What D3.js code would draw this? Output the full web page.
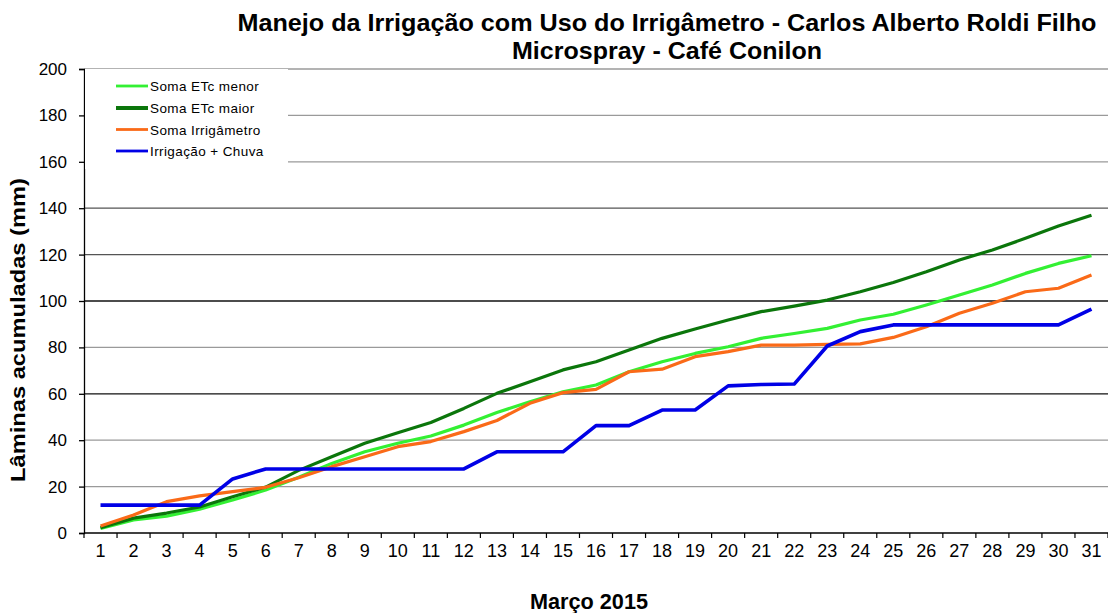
<!DOCTYPE html>
<html>
<head>
<meta charset="utf-8">
<script src="https://cdn.jsdelivr.net/npm/d3@7"></script>
<style>
  html, body { margin: 0; padding: 0; background: #fff; }
  svg { display: block; }
  text { font-family: "Liberation Sans", Arial, sans-serif; }
</style>
</head>
<body>
<svg id="chart" width="1108" height="613"></svg>
<script>
const days = d3.range(1, 32).map(String);
const yTicks = [0, 20, 40, 60, 80, 100, 120, 140, 160, 180, 200];

const seriesNames = ["Soma ETc menor", "Soma ETc maior", "Soma Irrigâmetro", "Irrigação + Chuva"];
const seriesColors = ["#33f033", "#0b760b", "#fa6a18", "#0000e6"];

const etcMenor = [2, 5.6, 7.3, 10.3, 14.2, 18.5, 24, 30, 35, 38.7, 41.8, 46.5, 51.9, 56.6, 60.9, 63.8, 69.5, 73.8, 77.4, 80.3, 83.9, 86, 88.2, 91.8, 94.3, 98.3, 102.6, 106.9, 111.9, 116.2, 119.5];
const etcMaior = [2.3, 6.4, 8.6, 11.2, 15.6, 19.8, 27, 32.9, 38.7, 43.2, 47.6, 53.7, 60.2, 65.2, 70.3, 73.8, 78.9, 83.9, 87.9, 91.8, 95.4, 97.8, 100.4, 104, 108, 112.6, 117.7, 122, 127, 132.3, 137];
const irrigametro = [3, 7.8, 13.5, 16, 17.8, 19.7, 23.8, 28.6, 32.9, 37.2, 39.4, 43.7, 48.5, 55.9, 60.5, 61.9, 69.5, 70.6, 76, 78.2, 81, 81, 81.3, 81.5, 84.3, 88.9, 94.7, 99, 104, 105.5, 111.2];
const irrigChuva = [12, 12, 12, 12, 23.3, 27.6, 27.6, 27.6, 27.6, 27.6, 27.6, 27.6, 35, 35, 35, 46.3, 46.3, 53, 53, 63.4, 64, 64.2, 80.6, 86.8, 89.7, 89.7, 89.7, 89.7, 89.7, 89.7, 96.5];

const allSeries = [etcMenor, etcMaior, irrigametro, irrigChuva];

const svg = d3.select("#chart");
const mLeft = 84, mRight = 1108, mTop = 69, mBottom = 533;

const x = d3.scaleBand().domain(days).range([mLeft, mRight]).paddingInner(0).paddingOuter(0);
const y = d3.scaleLinear().domain([0, 200]).range([mBottom, mTop]);

// gridlines
const gridColor = v => (v === 60 || v === 100) ? "#111" : (v === 120 || v === 140) ? "#555" : "#9a9a9a";
svg.append("g").selectAll("line")
  .data(yTicks.filter(v => v > 0))
  .join("line")
  .attr("x1", mLeft).attr("x2", mRight)
  .attr("y1", d => y(d)).attr("y2", d => y(d))
  .attr("stroke", d => gridColor(d))
  .attr("stroke-width", 1.3);

// y axis
const yAxis = svg.append("g").attr("transform", `translate(${mLeft},0)`)
  .call(d3.axisLeft(y).tickValues(yTicks).tickSize(5).tickPadding(12).tickFormat(d3.format("d")));
yAxis.select(".domain").attr("stroke", "#000").attr("stroke-width", 1.3);
yAxis.selectAll(".tick line").attr("stroke", "#000").attr("stroke-width", 1.3);
yAxis.selectAll("text").attr("font-size", 17).attr("fill", "#000").attr("font-family", "Liberation Sans, Arial, sans-serif");

// x axis (ticks at category boundaries)
const xAxisG = svg.append("g").attr("transform", `translate(0,${mBottom})`);
xAxisG.append("line").attr("x1", mLeft).attr("x2", mRight).attr("y1", 0).attr("y2", 0)
  .attr("stroke", "#000").attr("stroke-width", 1.3);
const bounds = days.map(d => x(d)).concat([x(days[days.length - 1]) + x.bandwidth()]);
xAxisG.selectAll("line.tk").data(bounds).join("line").attr("class", "tk")
  .attr("x1", d => d).attr("x2", d => d).attr("y1", 0).attr("y2", 5)
  .attr("stroke", "#000").attr("stroke-width", 1.2);
xAxisG.selectAll("text").data(days).join("text")
  .attr("x", d => x(d) + x.bandwidth() / 2)
  .attr("y", 24)
  .attr("text-anchor", "middle")
  .attr("font-size", 18)
  .attr("font-family", "Liberation Sans Narrow, Arial Narrow, Liberation Sans, sans-serif")
  .attr("fill", "#000")
  .text(d => d);

// legend background
svg.append("rect").attr("x", mLeft + 1).attr("y", mTop).attr("width", 288 - mLeft - 1).attr("height", 100).attr("fill", "#fff");

// lines
const line = d3.line()
  .x((d, i) => x(days[i]) + x.bandwidth() / 2)
  .y(d => y(d));
svg.append("g").selectAll("path")
  .data(allSeries)
  .join("path")
  .attr("d", d => line(d))
  .attr("fill", "none")
  .attr("stroke", (d, i) => seriesColors[i])
  .attr("stroke-width", (d, i) => i === 3 ? 3.6 : 3.2)
  .attr("stroke-linejoin", "round");

// legend
const lg = svg.append("g");
const legY = [86, 108, 129.5, 151];
seriesNames.forEach((name, i) => {
  lg.append("line").attr("x1", 116).attr("x2", 148).attr("y1", legY[i]).attr("y2", legY[i])
    .attr("stroke", seriesColors[i]).attr("stroke-width", i === 1 ? 4 : 2.8);
  lg.append("text").attr("x", 150).attr("y", legY[i] + 5).attr("font-size", 13.5)
    .attr("fill", "#000").attr("letter-spacing", 0.4).text(name);
});

// titles
svg.append("text").attr("x", 667).attr("y", 31).attr("text-anchor", "middle")
  .attr("font-size", 24).attr("font-weight", "bold").attr("fill", "#000")
  .attr("textLength", 859).attr("lengthAdjust", "spacingAndGlyphs")
  .text("Manejo da Irrigação com Uso do Irrigâmetro - Carlos Alberto Roldi Filho");
svg.append("text").attr("x", 667).attr("y", 59).attr("text-anchor", "middle")
  .attr("font-size", 24).attr("font-weight", "bold").attr("fill", "#000")
  .attr("textLength", 310).attr("lengthAdjust", "spacingAndGlyphs")
  .text("Microspray - Café Conilon");

// axis titles
svg.append("text").attr("transform", "translate(25,330) rotate(-90)").attr("text-anchor", "middle")
  .attr("font-size", 20).attr("font-weight", "bold").attr("fill", "#000")
  .attr("textLength", 304).attr("lengthAdjust", "spacingAndGlyphs")
  .text("Lâminas acumuladas (mm)");
svg.append("text").attr("x", 589).attr("y", 609).attr("text-anchor", "middle")
  .attr("font-size", 22).attr("font-weight", "bold").attr("fill", "#000")
  .attr("textLength", 118).attr("lengthAdjust", "spacingAndGlyphs")
  .text("Março 2015");
</script>
</body>
</html>
